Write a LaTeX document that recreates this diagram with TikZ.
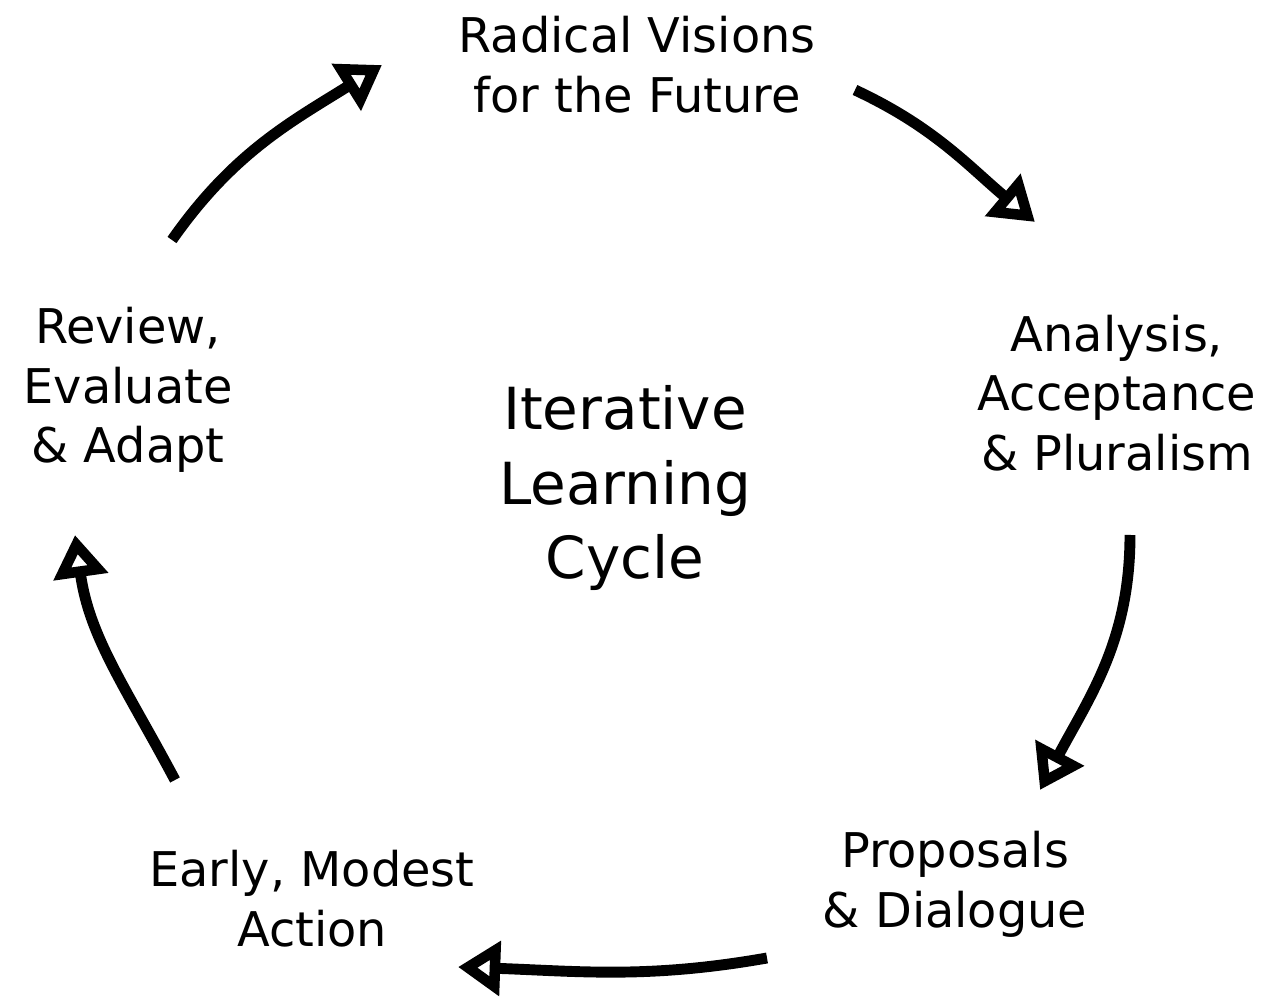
\documentclass[tikz,border=0pt]{standalone}
\usepackage{fontspec}
\setmainfont{DejaVu Sans}
\usetikzlibrary{arrows.meta}
\tikzset{
step label/.style={align=center, font=\fontsize{13.6}{17}\selectfont},
cycle arrow/.style={line width=3.1pt, -{Triangle[open, length=12pt, width=15pt]}}
}

\begin{document}
\begin{tikzpicture}[x=0.01cm, y=0.01cm]
    \useasboundingbox (0,0) rectangle (1285,-1001);

                \node[step label] (V) at (637,-65) {Radical Visions\\for the Future};
                \node[step label] (A) at (1117,-393) {Analysis,\\Acceptance\\\& Pluralism};
                \node[step label] (P) at (955,-884) {Proposals\\\& Dialogue};
                \node[step label] (E) at (312,-899) {Early, Modest\\Action};
                \node[step label] (R) at (128,-390) {Review,\\Evaluate\\\& Adapt};
                \node[align=center, font=\fontsize{16.5}{21.3}\selectfont] (C) at (625,-488) {Iterative\\Learning\\Cycle};

                % arrow ends
                \coordinate (r1) at (172,-240);  \coordinate (v0) at (382,-65);
                \coordinate (v1) at (855,-90);   \coordinate (a0) at (1035,-222);
                \coordinate (a1) at (1130,-535); \coordinate (p0) at (1040,-790);
                \coordinate (p1) at (767,-958);  \coordinate (e0) at (458,-967);
                \coordinate (e1) at (175,-780);  \coordinate (r0) at (75,-535);

                \draw[cycle arrow] (r1) to[out=55, in=212] (v0);
                \draw[cycle arrow] (v1) to[out=-25, in=140] (a0);
                \draw[cycle arrow] (a1) to[out=-90, in=62] (p0);
                \draw[cycle arrow] (p1) to[out=-170, in=-2] (e0);
                \draw[cycle arrow] (e1) to[out=118, in=-82] (r0);

            \end{tikzpicture}
\end{document}
